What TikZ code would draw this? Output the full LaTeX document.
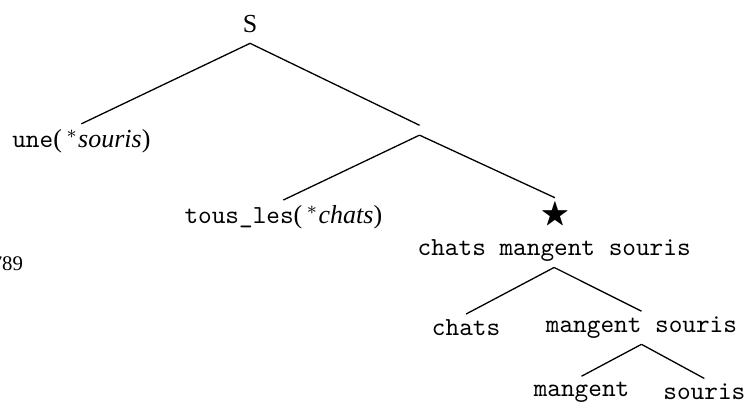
\documentclass[tikz,border=0pt]{standalone}
\usepackage{amssymb}
\usepackage{fontspec}
\setmainfont{Liberation Serif}
\usetikzlibrary{positioning}

\newcommand{\starred}[1]{{\rmfamily(\,$^*$\textit{#1})}}

\begin{document}
\begin{tikzpicture}[
    word/.style={inner sep=2pt, font=\ttfamily},
    branch/.style={line width=0.5pt},
    hub/.style={inner sep=1.7pt}
]
\useasboundingbox (0,0) rectangle (10.11,-5.52);

% ==================== TOP ====================
\node[inner sep=2pt, inner ysep=4pt] (root) at (3.38,-0.32) {S};
\node[word] (une) at (1.10,-1.91) {une\starred{souris}};
\node[hub] (split) at (5.67,-1.76) {};

% ==================== MIDDLE ====================
\node[word] (tous) at (3.83,-2.94) {tous\_les\starred{chats}};
\node[inner sep=1pt, scale=1.15] (star) at (7.50,-2.90) {$\bigstar$};
\node[word] (cms) at (7.49,-3.39) {chats mangent souris};
\node[font=\footnotesize] (page) at (0.10,-3.57) {789};

% ==================== BOTTOM ====================
\node[word] (chats) at (6.30,-4.43) {chats};
\node[word] (ms) at (8.67,-4.43) {mangent souris};
\node[word] (mangent) at (7.86,-5.30) {mangent};
\node[word] (souris) at (9.52,-5.30) {souris};

% ==================== BRANCHES ====================
\draw[branch] (root.south) -- (une.north);
\draw[branch] (root.south) -- (split.north);
\draw[branch] (split.south) -- (tous.north);
\draw[branch] (split.south) -- (star.north);
\draw[branch] (cms.south) -- (chats.north);
\draw[branch] (cms.south) -- (ms.north);
\draw[branch] (ms.south) -- (mangent.north);
\draw[branch] (ms.south) -- (souris.north);

\end{tikzpicture}
\end{document}
